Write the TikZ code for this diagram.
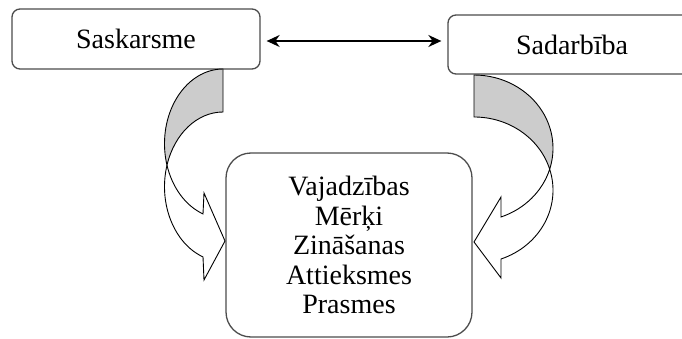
\documentclass[tikz,border=0pt]{standalone}
\usepackage{fontspec}
\setmainfont{Liberation Serif}
\usetikzlibrary{arrows.meta}
\begin{document}
\begin{tikzpicture}[x=1pt,y=1pt,
  box/.style={draw=black!70, line width=1.3pt, fill=white, inner sep=0pt,
    align=center, font=\fontsize{28}{29.5}\selectfont},
  back/.style={draw=black, line width=0.9pt, fill=black!20, line join=miter},
  front/.style={draw=black, line width=0.9pt, fill=white, line join=miter},
  dbl/.style={{Stealth[length=13pt,width=12pt]}-{Stealth[length=13pt,width=12pt]}, line width=1.5pt}]
\clip (0,0) rectangle (682,338);
% boxes
\node[box, rounded corners=8pt, minimum width=248pt, minimum height=60pt] (sas) at (136,299) {Saskarsme};
\node[box, rounded corners=8pt, minimum width=248pt, minimum height=59pt] (sad) at (572,293.5) {Sadarbība};
\node[box, rounded corners=25pt, minimum width=246pt, minimum height=184pt] (main) at (349,93)
  {Vajadzības\\Mērķi\\Zināšanas\\Attieksmes\\Prasmes};
% double arrow
\draw[dbl] ([xshift=6pt,yshift=-2pt]sas.east) -- ([xshift=-6pt,yshift=3.5pt]sad.west);
% left curved arrow
\coordinate (l1) at (223,194.3);
\coordinate (l2) at (223,151.3);
\draw[back] (223,269) arc[start angle=90, end angle=196.73, x radius=58.5, y radius=74.7]
  arc[start angle=163.27, end angle=90, x radius=58.5, y radius=74.7] -- cycle;
\draw[front] (l1) ++(196.73:58.5 and 74.7)
  arc[start angle=196.73, end angle=250, x radius=58.5, y radius=74.7]
  -- (204,145) -- (225,97) -- (204,58) -- (203,81.1)
  arc[start angle=250, end angle=163.27, x radius=58.5, y radius=74.7] -- cycle;
% right curved arrow
\coordinate (r1) at (474,189.8);
\coordinate (r2) at (474,147.8);
\draw[back] (474,263) arc[start angle=90, end angle=-16.67, x radius=79, y radius=73.2]
  arc[start angle=16.67, end angle=90, x radius=79, y radius=73.2] -- cycle;
\draw[front] (r1) ++(-16.67:79 and 73.2)
  arc[start angle=-16.67, end angle=-70.01, x radius=79, y radius=73.2]
  -- (501,141) -- (474,96) -- (501,60) -- (501,79)
  arc[start angle=-70.01, end angle=16.67, x radius=79, y radius=73.2] -- cycle;
\end{tikzpicture}
\end{document}
